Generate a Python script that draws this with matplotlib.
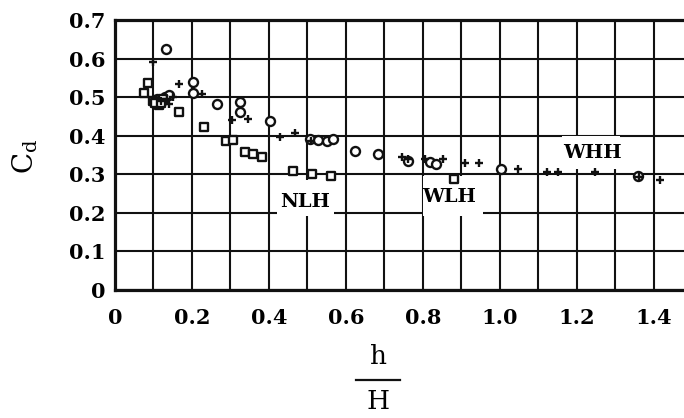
import numpy as np
import matplotlib
matplotlib.use("Agg")
import matplotlib.pyplot as plt
from matplotlib.patches import Rectangle
from matplotlib.lines import Line2D

plt.rcParams['font.family'] = ['DejaVu Serif']
plt.rcParams['mathtext.fontset'] = 'dejavuserif'

# open circles
circ_x = [0.132, 0.203, 0.203, 0.264, 0.325, 0.325, 0.403, 0.506, 0.527, 0.550,
          0.566, 0.623, 0.684, 0.762, 0.818, 0.835, 1.004, 1.359, 0.110, 0.130,
          0.140, 0.120]
circ_y = [0.626, 0.540, 0.510, 0.482, 0.488, 0.462, 0.438, 0.390, 0.388, 0.386,
          0.390, 0.360, 0.352, 0.335, 0.332, 0.326, 0.312, 0.295, 0.495, 0.500,
          0.505, 0.488]

# open squares
sq_x = [0.076, 0.087, 0.100, 0.115, 0.125, 0.167, 0.231, 0.288, 0.307, 0.339,
        0.359, 0.381, 0.463, 0.511, 0.560, 0.881, 0.105, 0.120]
sq_y = [0.510, 0.537, 0.490, 0.480, 0.495, 0.462, 0.423, 0.386, 0.388, 0.358,
        0.352, 0.345, 0.308, 0.300, 0.296, 0.288, 0.485, 0.484]

# plus signs
pl_x = [0.098, 0.167, 0.120, 0.150, 0.225, 0.303, 0.346, 0.429, 0.468, 0.510,
        0.745, 0.760, 0.805, 0.853, 0.909, 0.946, 1.047, 1.121, 1.152, 1.247,
        1.360, 1.416, 0.135, 0.140]
pl_y = [0.592, 0.534, 0.490, 0.500, 0.508, 0.440, 0.442, 0.397, 0.407, 0.385,
        0.345, 0.340, 0.338, 0.338, 0.328, 0.328, 0.313, 0.306, 0.306, 0.306,
        0.293, 0.284, 0.495, 0.482]

xtick_vals = [0, 0.2, 0.4, 0.6, 0.8, 1.0, 1.2, 1.4]
xtick_labels = ['0', '0.2', '0.4', '0.6', '0.8', '1.0', '1.2', '1.4']
ytick_vals = [0, 0.1, 0.2, 0.3, 0.4, 0.5, 0.6, 0.7]
ytick_labels = ['0', '0.1', '0.2', '0.3', '0.4', '0.5', '0.6', '0.7']

regime_names = ['NLH', 'WLH', 'WHH']
regime_x = [0.494, 0.868, 1.240]
regime_y = [0.228, 0.240, 0.354]

fig = plt.figure(figsize=(6.84, 4.18), dpi=100)
ax = fig.add_axes([0.168, 0.3074, 0.832, 0.6447])
ax.set_xlim(0, 1.478)
ax.set_ylim(0, 0.7)
ax.set_axisbelow(True)

ax.set_xticks(xtick_vals)
ax.set_xticklabels(xtick_labels)
ax.set_xticks(np.arange(0.1, 1.5, 0.2), minor=True)
ax.set_yticks(ytick_vals)
ax.set_yticklabels(ytick_labels)
ax.grid(True, which='both', color='#111111', linewidth=1.5)
ax.tick_params(which='both', length=0)
ax.tick_params(axis='x', pad=13)
ax.tick_params(axis='y', pad=7)
for lab in ax.get_xticklabels() + ax.get_yticklabels():
    lab.set_fontsize(15)
    lab.set_fontweight('bold')

for side in ['left', 'bottom', 'top']:
    ax.spines[side].set_linewidth(2.3)
    ax.spines[side].set_color('#111111')
ax.spines['right'].set_visible(False)

# white patches behind the regime labels (gridlines interrupted)
ax.add_patch(Rectangle((0.42, 0.192), 0.15, 0.092, facecolor='white', edgecolor='none', zorder=1))
ax.add_patch(Rectangle((0.80, 0.192), 0.155, 0.104, facecolor='white', edgecolor='none', zorder=1))
ax.add_patch(Rectangle((1.16, 0.312), 0.152, 0.086, facecolor='white', edgecolor='none', zorder=1))

for name, tx, ty in zip(regime_names, regime_x, regime_y):
    ax.text(tx, ty, name, ha='center', va='center', fontsize=14, fontweight='bold', zorder=2)

ax.scatter(circ_x, circ_y, s=42, facecolors='white', edgecolors='#111111', linewidths=1.7, marker='o', zorder=3)
ax.scatter(sq_x, sq_y, s=40, facecolors='white', edgecolors='#111111', linewidths=1.7, marker='s', zorder=3)
ax.scatter(pl_x, pl_y, s=30, color='#111111', linewidths=1.7, marker='+', zorder=4)

# y label C_d
fig.text(0.037, 0.625, r'$\mathrm{C_d}$', rotation=90, fontsize=20, ha='center', va='center')

# x label h/H as stacked fraction
fig.text(0.553, 0.146, 'h', fontsize=19, ha='center', va='center')
fig.add_artist(Line2D([0.521, 0.585], [0.092, 0.092], transform=fig.transFigure, color='#111111', linewidth=1.6))
fig.text(0.553, 0.040, 'H', fontsize=19, ha='center', va='center')

fig.savefig('out.png', dpi=100)
